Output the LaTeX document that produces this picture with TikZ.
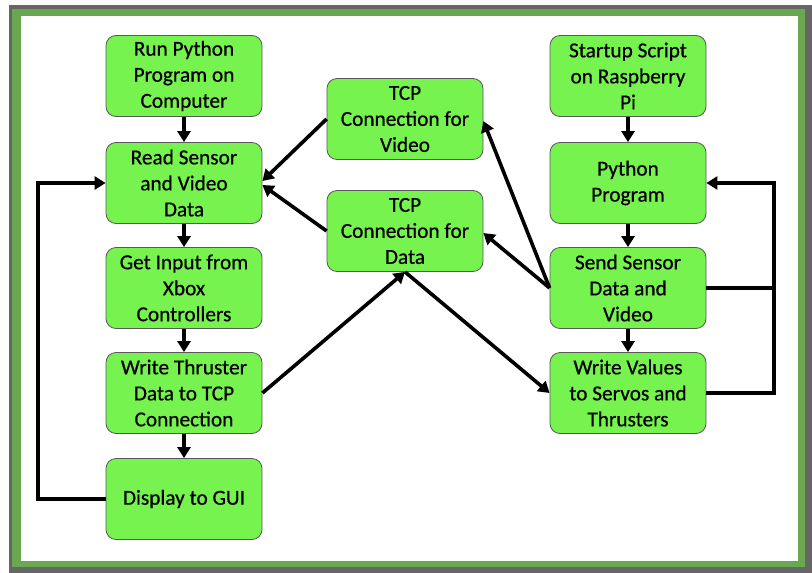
\documentclass[tikz,border=0pt]{standalone}
\usepackage{fontspec}
\setmainfont{Carlito}
\newfontfamily\boxfont{Carlito}[FakeBold=0.6]
\usetikzlibrary{arrows.meta}
\definecolor{boxgreen}{RGB}{118,243,79}
\definecolor{framegreen}{RGB}{106,168,79}
\definecolor{framegray}{RGB}{102,102,102}
\begin{document}
\begin{tikzpicture}[x=1pt,y=-1pt,
  stepbox/.style={draw=black!65, line width=0.8pt, fill=boxgreen,
    rounded corners=10pt, minimum width=156pt, minimum height=81pt,
    align=center, inner sep=0pt, font=\boxfont\fontsize{21.3}{26}\selectfont},
  flow/.style={line width=3.6pt, -{Triangle[length=11pt,width=13pt]}},
  link/.style={line width=3.6pt}]
  % frame
  \useasboundingbox (0,0) rectangle (812,573);
  \fill[framegray] (9,5) rectangle (812,573);
  \fill[framegreen] (12,9) rectangle (805,567);
  \fill[white] (21,16) rectangle (798,561);

  % computer side
  \node[stepbox] (run)   at (184,76)  {Run Python\\Program on\\Computer};
  \node[stepbox] (read)  at (184,183) {Read Sensor\\and Video\\Data};
  \node[stepbox] (input) at (184,288) {Get Input from\\Xbox\\Controllers};
  \node[stepbox] (wthr)  at (184,393) {Write Thruster\\Data to TCP\\Connection};
  \node[stepbox] (gui)   at (184,499) {Display to GUI};

  % connections
  \node[stepbox] (video) at (405,119) {TCP\\Connection for\\Video};
  \node[stepbox] (data)  at (405,231) {TCP\\Connection for\\Data};

  % Raspberry Pi side
  \node[stepbox] (start) at (628,76)  {Startup Script\\on Raspberry\\Pi};
  \node[stepbox] (py)    at (628,183) {Python\\Program};
  \node[stepbox] (send)  at (628,288) {Send Sensor\\Data and\\Video};
  \node[stepbox] (wval)  at (628,393) {Write Values\\to Servos and\\Thrusters};

  % loop rails
  \coordinate (lrail) at (38,0);
  \coordinate (rrail) at (774,0);

  % vertical flow
  \draw[flow] (run) -- (read);
  \draw[flow] (read) -- (input);
  \draw[flow] (input) -- (wthr);
  \draw[flow] (wthr) -- (gui);
  \draw[flow] (start) -- (py);
  \draw[flow] (py) -- (send);
  \draw[flow] (send) -- (wval);

  % TCP links
  \draw[flow] (video.west) -- ([yshift=2pt]read.east);
  \draw[flow] (data.west) -- ([yshift=-2pt]read.east);
  \draw[flow] (send.west) -- ([yshift=-2pt]video.east);
  \draw[flow] (send.west) -- ([yshift=-2pt]data.east);
  \draw[flow] (wthr.east) -- (data.south);
  \draw[flow] (data.south) -- (wval.west);

  % loops
  \draw[flow] (gui.west) -- (gui.west -| lrail) -- (read.west -| lrail) -- (read.west);
  \draw[link] (send.east) -- (send.east -| rrail);
  \draw[flow] (wval.east) -- (wval.east -| rrail) -- (py.east -| rrail) -- (py.east);
\end{tikzpicture}
\end{document}
